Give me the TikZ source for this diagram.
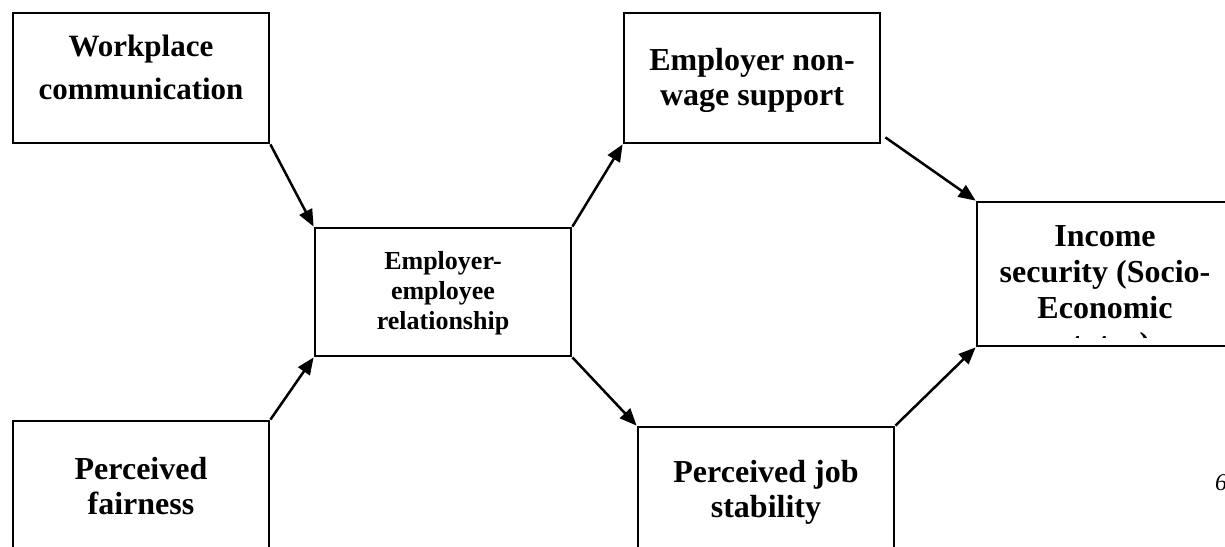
\documentclass[tikz,border=0pt]{standalone}
\usepackage{fontspec}
\setmainfont{Liberation Serif}
\usetikzlibrary{arrows.meta}
\begin{document}
\begin{tikzpicture}[x=1pt,y=-1pt,
  box/.style={draw, line width=2.8pt, minimum width=256pt, minimum height=130pt, inner sep=0pt},
  txt/.style={font=\fontsize{32}{35}\selectfont\bfseries, align=center, inner sep=0pt},
  smalltxt/.style={font=\fontsize{26}{30}\selectfont\bfseries, align=center, inner sep=0pt},
  arr/.style={line width=2.5pt, -{Triangle[length=17pt,width=14pt]}}]
\useasboundingbox (0,0) rectangle (1225,546);
% boxes
\node[box] (wc) at (141,78) {};
\node[box] (en) at (752,78) {};
\node[box, minimum height=128pt] (ee) at (443,292) {};
\node[box] (pf) at (141,486) {};
\node[box] (pj) at (766,492) {};
\node[box, minimum height=144pt] (inc) at (1105,274) {};
% texts
\node[txt, anchor=north, font=\fontsize{31}{43}\selectfont\bfseries] (wct) at (141,35) {Workplace\\communication};
\node[txt] (ent) at (752,80) {Employer non-\\wage support};
\node[smalltxt] (eet) at (443,293) {Employer-\\employee\\relationship};
\node[txt] (pft) at (141,486) {Perceived\\fairness};
\node[txt] (pjt) at (766,492) {Perceived job\\stability};
\begin{scope}
  \clip (979,204) rectangle (1233,337);
  \node[txt, anchor=north, font=\fontsize{32}{36}\selectfont\bfseries] (inct) at (1105,225) {Income\\security (Socio-\\Economic\\status)};
\end{scope}
\node[font=\fontsize{24}{24}\selectfont\itshape, anchor=west, inner sep=0pt] (pg) at (1215,483) {6};
% arrows
\draw[arr] (wc.south east) -- (ee.north west);
\draw[arr] (pf.north east) -- (ee.south west);
\draw[arr] (ee.north east) -- (en.south west);
\draw[arr] (ee.south east) -- (pj.north west);
\draw[arr] ([shift={(4,-7)}]en.south east) -- (inc.north west);
\draw[arr] (pj.north east) -- (inc.south west);
\end{tikzpicture}
\end{document}
